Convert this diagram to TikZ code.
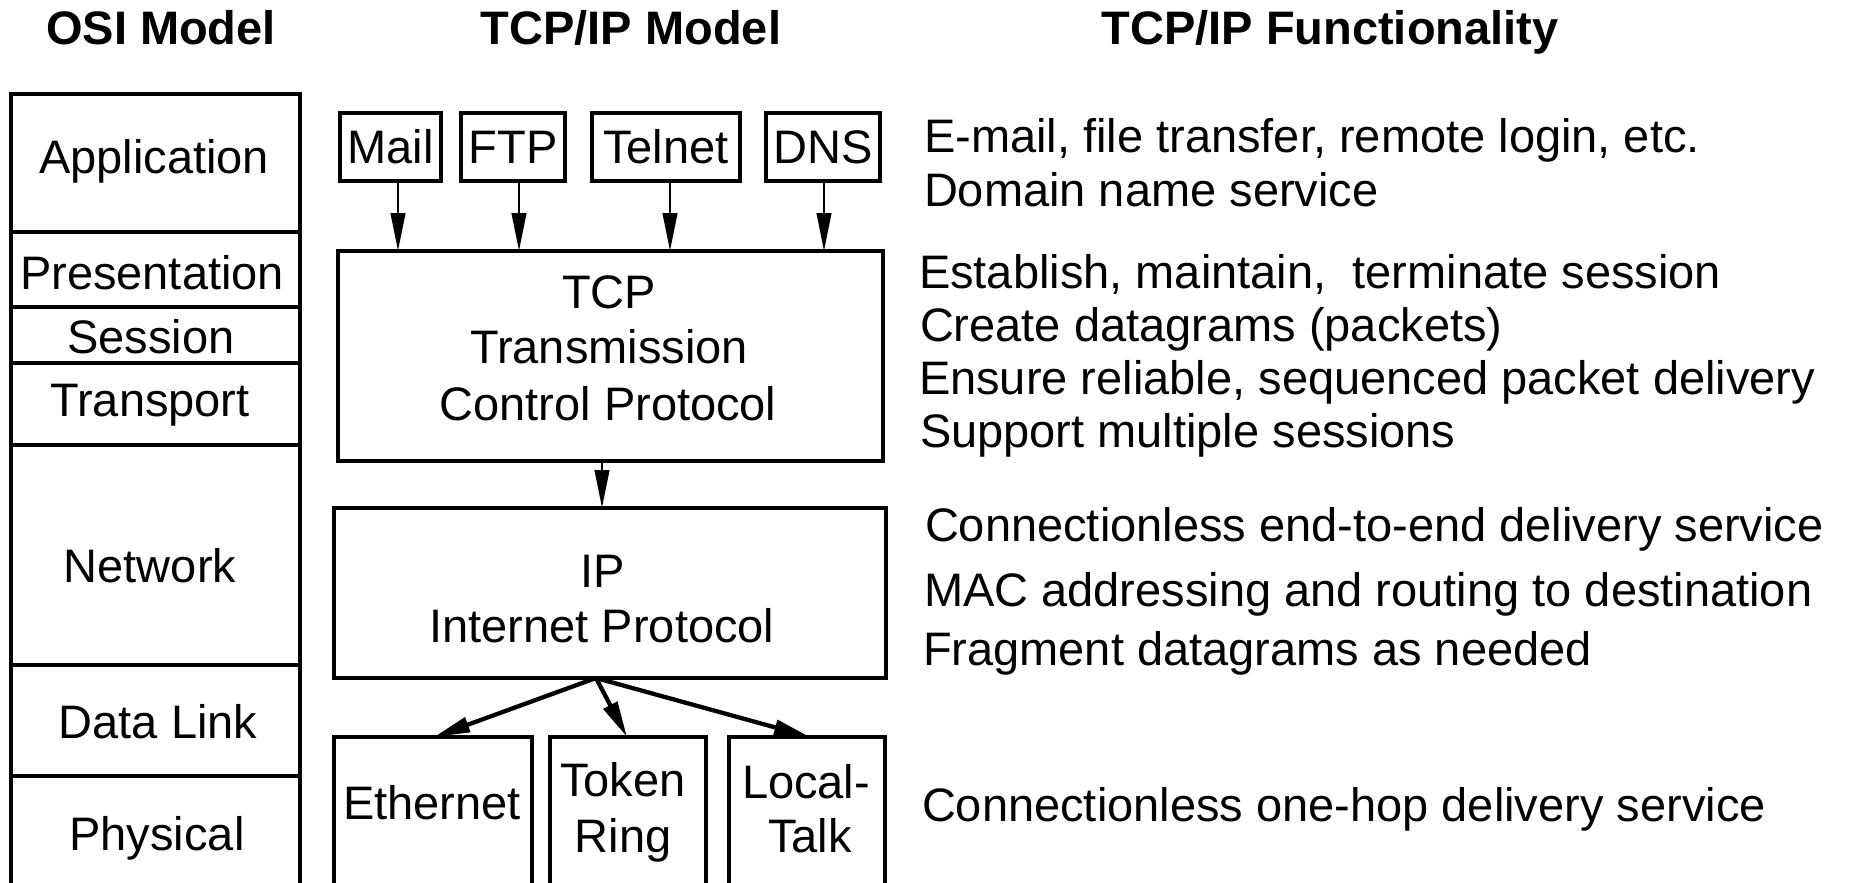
\documentclass[tikz,border=0pt]{standalone}
\usepackage{fontspec}
\setmainfont{Liberation Sans}
\usetikzlibrary{arrows.meta}

\tikzset{
  txt/.style={font=\fontsize{47pt}{56pt}\selectfont, inner sep=0pt, outer sep=0pt},
  ttl/.style={txt, font=\fontsize{47pt}{56pt}\selectfont\bfseries, anchor=base},
  lbl/.style={txt, anchor=base},
  fn/.style={txt, anchor=base west},
  box/.style={draw, line width=3.6pt, inner sep=0pt, outer sep=0pt},
  thinarrow/.style={line width=2.6pt, -{Triangle[length=38pt, width=14.5pt]}},
  thickarrow/.style={line width=4.3pt, -{Triangle[length=36pt, width=15pt]}}
}

\begin{document}
\begin{tikzpicture}[x=1pt, y=-1pt]
\useasboundingbox (0,0) rectangle (1856,883);
\clip (0,0) rectangle (1856,883);

% column headings
\node[ttl] (hosi) at (161,45) {OSI Model};
\node[ttl] (htcp) at (631,45) {TCP/IP Model};
\node[ttl] (hfun) at (1330,45) {TCP/IP Functionality};

% OSI layer stack
\node[box, minimum width=289pt, minimum height=138pt] (app)   at (155.5,163)   {};
\node[box, minimum width=289pt, minimum height=75pt]  (pres)  at (155.5,269.5) {};
\node[box, minimum width=289pt, minimum height=56pt]  (sess)  at (155.5,335)   {};
\node[box, minimum width=289pt, minimum height=82pt]  (trans) at (155.5,404)   {};
\node[box, minimum width=289pt, minimum height=220pt] (net)   at (155.5,555)   {};
\node[box, minimum width=289pt, minimum height=111pt] (dl)    at (155.5,720.5) {};
\node[box, minimum width=289pt, minimum height=109pt] (phy)   at (155.5,830.5) {};

\node[lbl] (tapp)   at (154,173) {Application};
\node[lbl] (tpres)  at (152,289) {Presentation};
\node[lbl] (tsess)  at (151,353) {Session};
\node[lbl] (ttrans) at (150,416) {Transport};
\node[lbl] (tnet)   at (150,582) {Network};
\node[lbl] (tdl)    at (158,738) {Data Link};
\node[lbl] (tphy)   at (157,850) {Physical};

% application protocols
\node[box, txt, minimum width=101pt, minimum height=68pt] (mail)   at (390.5,147) {Mail};
\node[box, txt, minimum width=104pt, minimum height=68pt] (ftp)    at (513,147)   {FTP};
\node[box, txt, minimum width=148pt, minimum height=68pt] (telnet) at (666,147)   {Telnet};
\node[box, txt, minimum width=114pt, minimum height=68pt] (dns)    at (823,147)   {DNS};

% transport and network boxes
\node[box, minimum width=545pt, minimum height=210pt] (tcp) at (610.5,356) {};
\node[lbl] (ttcp1) at (609,308) {TCP};
\node[lbl] (ttcp2) at (609,363) {Transmission};
\node[lbl] (ttcp3) at (608,420) {Control Protocol};

\node[box, minimum width=552pt, minimum height=170pt] (ip) at (610,593) {};
\node[lbl] (tip1) at (603,587) {IP};
\node[lbl] (tip2) at (602,642) {Internet Protocol};

% link layer technologies
\node[box, minimum width=198pt, minimum height=148pt] (eth) at (433,811) {};
\node[box, minimum width=156pt, minimum height=148pt] (tok) at (628,811) {};
\node[box, minimum width=156pt, minimum height=148pt] (loc) at (807,811) {};
\node[lbl] (teth)  at (432,819) {Ethernet};
\node[lbl] (ttok1) at (623,796) {Token};
\node[lbl] (ttok2) at (623,852) {Ring};
\node[lbl] (tloc1) at (806,798) {Local-};
\node[lbl] (tloc2) at (810,852) {Talk};

% connectors
\draw[thinarrow] ([xshift=7.5pt]mail.south) -- ([xshift=7.5pt]mail.south |- tcp.north);
\draw[thinarrow] ([xshift=6pt]ftp.south)    -- ([xshift=6pt]ftp.south |- tcp.north);
\draw[thinarrow] ([xshift=4pt]telnet.south) -- ([xshift=4pt]telnet.south |- tcp.north);
\draw[thinarrow] ([xshift=1pt]dns.south)    -- ([xshift=1pt]dns.south |- tcp.north);
\draw[thinarrow] ([xshift=-8.5pt]tcp.south) -- ([xshift=-8.5pt]tcp.south |- ip.north);

\coordinate (ipout) at ([xshift=-14pt]ip.south);
\draw[thickarrow] (ipout) -- ([xshift=1pt]eth.north);
\draw[thickarrow] (ipout) -- ([xshift=-1pt]tok.north);
\draw[thickarrow] (ipout) -- ([xshift=3pt]loc.north);

% functionality descriptions
\node[fn] (f1)  at (924,152) {E-mail, file transfer, remote login, etc.};
\node[fn] (f2)  at (924,206) {Domain name service};
\node[fn] (f3)  at (919,288) {Establish, maintain,\ \ terminate session};
\node[fn] (f4)  at (920,341) {Create datagrams (packets)};
\node[fn] (f5)  at (919,394) {Ensure reliable, sequenced packet delivery};
\node[fn] (f6)  at (920,447) {Support multiple sessions};
\node[fn] (f7)  at (925,541) {Connectionless end-to-end delivery service};
\node[fn] (f8)  at (924,606) {MAC addressing and routing to destination};
\node[fn] (f9)  at (923,665) {Fragment datagrams as needed};
\node[fn] (f10) at (922,821) {Connectionless one-hop delivery service};
\end{tikzpicture}
\end{document}
